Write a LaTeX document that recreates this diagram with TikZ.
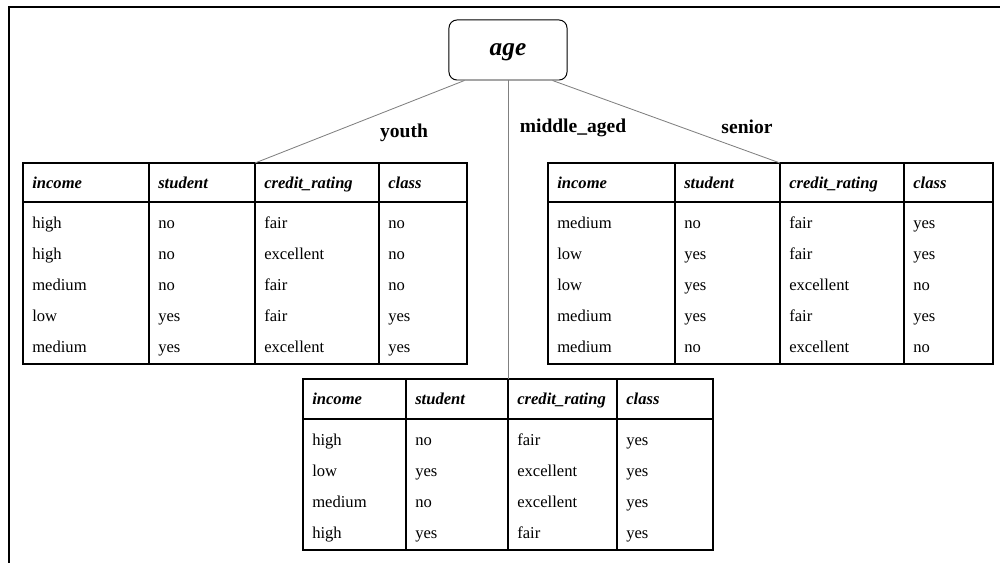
\documentclass[tikz,border=0pt]{standalone}
\usepackage{fontspec}
\setmainfont{Liberation Serif}
\usetikzlibrary{positioning}
\tikzset{
  root/.style={draw,line width=0.7pt,rounded corners=0.2cm,minimum width=2.95cm,minimum height=1.5cm,text height=2.3ex,text depth=0.5ex,font=\fontsize{18}{20}\selectfont\bfseries\itshape},
  grid/.style={draw=black,line width=0.8pt},
  link/.style={draw=gray,line width=0.6pt},
  frame/.style={line width=1.5pt},
  hd/.style={anchor=west,inner sep=0pt,xshift=0.225cm,text height=1.7ex,text depth=0.5ex,font=\fontsize{11.8}{14}\selectfont\bfseries\itshape},
  cell/.style={anchor=west,inner sep=0pt,xshift=0.225cm,text height=1.7ex,text depth=0.5ex,font=\fontsize{11.8}{14}\selectfont},
  edgelbl/.style={inner sep=0pt,font=\fontsize{13.9}{16}\selectfont\bfseries}}
\begin{document}
\begin{tikzpicture}[x=0.025cm,y=-0.025cm]
\useasboundingbox (0,0) rectangle (1000,563);
\draw[frame] (9,563) -- (9,7) -- (1000,7);
\node[root] (age) at (508,50) {age};
% youth branch
\draw[grid] (23,163) rectangle (467,364) (23,202) -- (467,202);
\foreach \c in {149,255,379} \draw[grid] (\c,163) -- (\c,364);
\coordinate (ty) at (255,163);
\foreach \t/\c [count=\j] in {income/23,student/149,credit\_rating/255,class/379}
  \node[hd,name=ty-h\j] at (\c,185) {\t};
\foreach \a/\b/\e/\d [count=\i] in {high/no/fair/no,high/no/excellent/no,medium/no/fair/no,low/yes/fair/yes,medium/yes/excellent/yes}{
  \node[cell,name=ty-\i a] at (23,{194+31*\i}) {\a};
  \node[cell,name=ty-\i b] at (149,{194+31*\i}) {\b};
  \node[cell,name=ty-\i c] at (255,{194+31*\i}) {\e};
  \node[cell,name=ty-\i d] at (379,{194+31*\i}) {\d};
}
% senior branch
\draw[grid] (548,163) rectangle (993,364) (548,202) -- (993,202);
\foreach \c in {675,780,904} \draw[grid] (\c,163) -- (\c,364);
\coordinate (ts) at (780,163);
\foreach \t/\c [count=\j] in {income/548,student/675,credit\_rating/780,class/904}
  \node[hd,name=ts-h\j] at (\c,185) {\t};
\foreach \a/\b/\e/\d [count=\i] in {medium/no/fair/yes,low/yes/fair/yes,low/yes/excellent/no,medium/yes/fair/yes,medium/no/excellent/no}{
  \node[cell,name=ts-\i a] at (548,{194+31*\i}) {\a};
  \node[cell,name=ts-\i b] at (675,{194+31*\i}) {\b};
  \node[cell,name=ts-\i c] at (780,{194+31*\i}) {\e};
  \node[cell,name=ts-\i d] at (904,{194+31*\i}) {\d};
}
% middle_aged branch
\draw[grid] (303,379) rectangle (713,550) (303,419) -- (713,419);
\foreach \c in {406,508,617} \draw[grid] (\c,379) -- (\c,550);
\coordinate (tm) at (508,379);
\foreach \t/\c [count=\j] in {income/303,student/406,credit\_rating/508,class/617}
  \node[hd,name=tm-h\j] at (\c,401) {\t};
\foreach \a/\b/\e/\d [count=\i] in {high/no/fair/yes,low/yes/excellent/yes,medium/no/excellent/yes,high/yes/fair/yes}{
  \node[cell,name=tm-\i a] at (303,{411+31*\i}) {\a};
  \node[cell,name=tm-\i b] at (406,{411+31*\i}) {\b};
  \node[cell,name=tm-\i c] at (508,{411+31*\i}) {\e};
  \node[cell,name=tm-\i d] at (617,{411+31*\i}) {\d};
}
% branches
\draw[link] ([xshift=0.4cm]age.south west) -- (ty);
\draw[link] (age.south) -- (tm);
\draw[link] ([xshift=-0.375cm]age.south east) -- (ts);
\node[edgelbl] (lyouth) at (404,133) {youth};
\node[edgelbl] (lmid) at (573,128) {middle\_aged};
\node[edgelbl] (lsenior) at (747,127) {senior};
\end{tikzpicture}
\end{document}
